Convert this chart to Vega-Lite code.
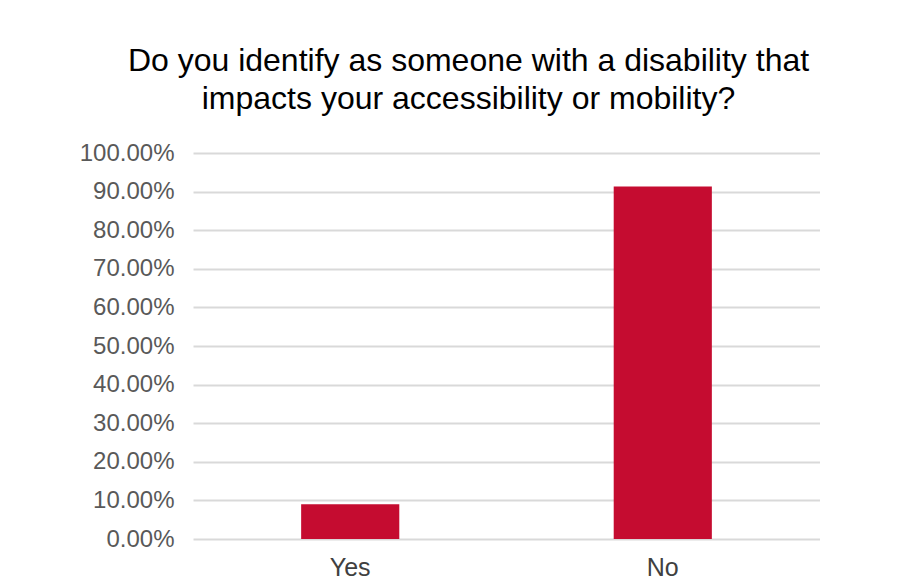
{
  "$schema": "https://vega.github.io/schema/vega-lite/v6.json",
  "width": 627,
  "height": 386,
  "padding": {"left": 79, "top": 45, "right": 0, "bottom": 0},
  "background": "white",
  "title": {
    "text": ["Do you identify as someone with a disability that", "impacts your accessibility or mobility?"],
    "font": "Liberation Sans",
    "fontSize": 32,
    "fontWeight": "normal",
    "color": "#000000",
    "lineHeight": 38,
    "anchor": "middle",
    "frame": "group",
    "dx": -38,
    "offset": 25
  },
  "data": {
    "values": [
      {"answer": "Yes", "share": 0.09},
      {"answer": "No", "share": 0.913}
    ]
  },
  "mark": {"type": "bar", "color": "#C50C30"},
  "encoding": {
    "x": {
      "field": "answer",
      "type": "nominal",
      "sort": ["Yes", "No"],
      "scale": {"paddingInner": 0.686, "paddingOuter": 0.346},
      "axis": {
        "title": null,
        "labelAngle": 0,
        "ticks": false,
        "domain": false,
        "labelFont": "Liberation Sans",
        "labelFontSize": 25,
        "labelColor": "#404040",
        "labelPadding": 16
      }
    },
    "y": {
      "field": "share",
      "type": "quantitative",
      "scale": {"domain": [0, 1], "nice": false},
      "axis": {
        "title": null,
        "values": [0, 0.1, 0.2, 0.3, 0.4, 0.5, 0.6, 0.7, 0.8, 0.9, 1],
        "format": ".2%",
        "ticks": false,
        "domain": false,
        "labelFont": "Liberation Sans",
        "labelFontSize": 24,
        "labelColor": "#595959",
        "labelPadding": 19,
        "gridColor": "#D9D9D9",
        "gridWidth": 2
      }
    }
  },
  "config": {"view": {"stroke": null}}
}
